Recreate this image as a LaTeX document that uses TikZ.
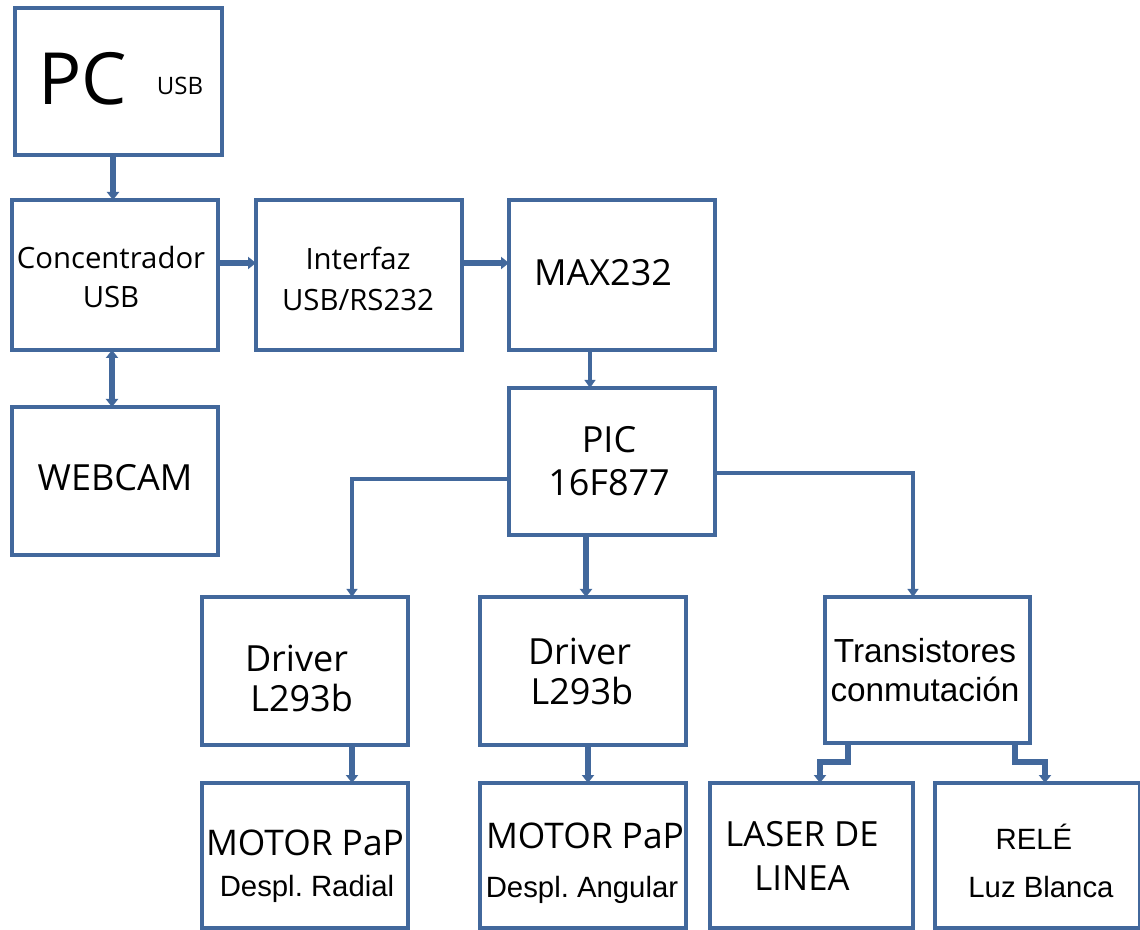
\documentclass[tikz,border=0pt]{standalone}
\usepackage{fontspec}
\setmainfont{Open Sans}
\newfontfamily\arialf{Liberation Sans}
\usetikzlibrary{arrows.meta,calc}
\definecolor{lineblue}{RGB}{66,104,156}
\frenchspacing
\begin{document}
\begin{tikzpicture}[x=0.75pt,y=-0.75pt,
  box/.style={draw=lineblue,line width=2.4pt,inner sep=0pt,outer sep=0pt},
  txt/.style={inner sep=0pt,outer sep=0pt,font=\fontsize{22pt}{29pt}\selectfont,align=center,text=black},
  big/.style={txt,font=\fontsize{27pt}{32pt}\selectfont},
  ar/.style={txt,font=\arialf\fontsize{22pt}{26pt}\selectfont},
  thickcon/.style={draw=lineblue,line width=4.6pt,-{Triangle[width=9pt,length=6pt]}},
  thincon/.style={draw=lineblue,line width=2.4pt,-{Triangle[width=8pt,length=6pt]}},
  twocon/.style={draw=lineblue,line width=4.6pt,{Triangle[width=9pt,length=6pt]}-{Triangle[width=9pt,length=6pt]}}
]
\useasboundingbox (0,0) rectangle (1140,930);
% boxes
\node[box,minimum width=155.25pt,minimum height=110.25pt] (pc) at (118.5,81.5) {};
\node[box,minimum width=154.5pt,minimum height=112.5pt] (conc) at (115,275) {};
\node[box,minimum width=154.5pt,minimum height=112.5pt] (intf) at (359,275) {};
\node[box,minimum width=154.5pt,minimum height=112.5pt] (max) at (612,275) {};
\node[box,minimum width=154.5pt,minimum height=111pt] (web) at (115,481) {};
\node[box,minimum width=154.5pt,minimum height=110.25pt] (pic) at (612,461.5) {};
\node[box,minimum width=154.5pt,minimum height=111pt] (drv1) at (305,671) {};
\node[box,minimum width=154.5pt,minimum height=111pt] (drv2) at (583,671) {};
\node[box,minimum width=153.75pt,minimum height=109.5pt] (trans) at (927.5,670) {};
\node[box,minimum width=154.5pt,minimum height=108.75pt] (mot1) at (305,855.5) {};
\node[box,minimum width=154.5pt,minimum height=108.75pt] (mot2) at (583,855.5) {};
\node[box,minimum width=152.25pt,minimum height=108.75pt] (laser) at (811.5,855.5) {};
\node[box,minimum width=153.75pt,minimum height=108.75pt] (rele) at (1037.5,855.5) {};
% texts
\node[txt,font=\fontsize{54pt}{60pt}\selectfont] (tpc) at (83,79) {PC};
\node[txt,font=\fontsize{18pt}{22pt}\selectfont] (tusb) at (180,86) {USB};
\node[txt] (tconc) at (111,277) {Concentrador\\USB};
\node[txt,font=\fontsize{22pt}{31pt}\selectfont] (tintf) at (358,279) {Interfaz\\USB/RS232};
\node[big] (tmax) at (603,273) {MAX232};
\node[big] (tweb) at (115,478) {WEBCAM};
\node[big,font=\fontsize{27pt}{32pt}\selectfont] (tpic) at (609,461) {PIC\\16F877};
\node[big,font=\fontsize{27pt}{30pt}\selectfont,align=left,anchor=west] (tdrv1) at (245,678) {Driver\\\hspace*{4pt}L293b};
\node[big,font=\fontsize{27pt}{30pt}\selectfont,align=left,anchor=west] (tdrv2) at (528,671) {Driver\\\hspace*{2pt}L293b};
\node[ar,font=\arialf\fontsize{25pt}{29pt}\selectfont] (ttrans) at (925,670) {Transistores\\conmutación};
\node[big,font=\fontsize{26.5pt}{30pt}\selectfont] (tmot1) at (305,843) {MOTOR PaP};
\node[ar] (tdes1) at (307,889) {Despl. Radial};
\node[big,font=\fontsize{26.5pt}{30pt}\selectfont] (tmot2) at (585,836) {MOTOR PaP};
\node[ar] (tdes2) at (582,890) {Despl. Angular};
\node[big,font=\fontsize{26pt}{33pt}\selectfont] (tlaser) at (802,856) {LASER DE\\LINEA};
\node[ar] (trele) at (1034,837) {RELÉ};
\node[ar] (tluz) at (1041,887) {Luz Blanca};
% connectors
\draw[thickcon] (pc.south -| 113,0) -- (conc.north -| 113,0);
\draw[thickcon] (conc.east |- 0,263) -- (intf.west |- 0,263);
\draw[thickcon] (intf.east |- 0,263) -- (max.west |- 0,263);
\draw[twocon] (conc.south -| 112,0) -- (web.north -| 112,0);
\draw[thincon,line width=3pt] (max.south -| 590,0) -- (pic.north -| 590,0);
\draw[thincon] (pic.west |- 0,479) -| (drv1.north -| 352,0);
\draw[thickcon] (pic.south -| 586,0) -- (drv2.north -| 586,0);
\draw[thincon,line width=3pt] (pic.east |- 0,473) -| (trans.north -| 913,0);
\draw[thickcon] (drv1.south -| 352,0) -- (mot1.north -| 352,0);
\draw[thickcon] (drv2.south -| 588,0) -- (mot2.north -| 588,0);
\draw[thickcon,line width=4pt] (trans.south -| 848,0) -- (848,762) -- (820,762) -- (laser.north -| 820,0);
\draw[thickcon,line width=4pt] (trans.south -| 1015,0) -- (1015,762) -- (1045,762) -- (rele.north -| 1045,0);
\end{tikzpicture}
\end{document}
